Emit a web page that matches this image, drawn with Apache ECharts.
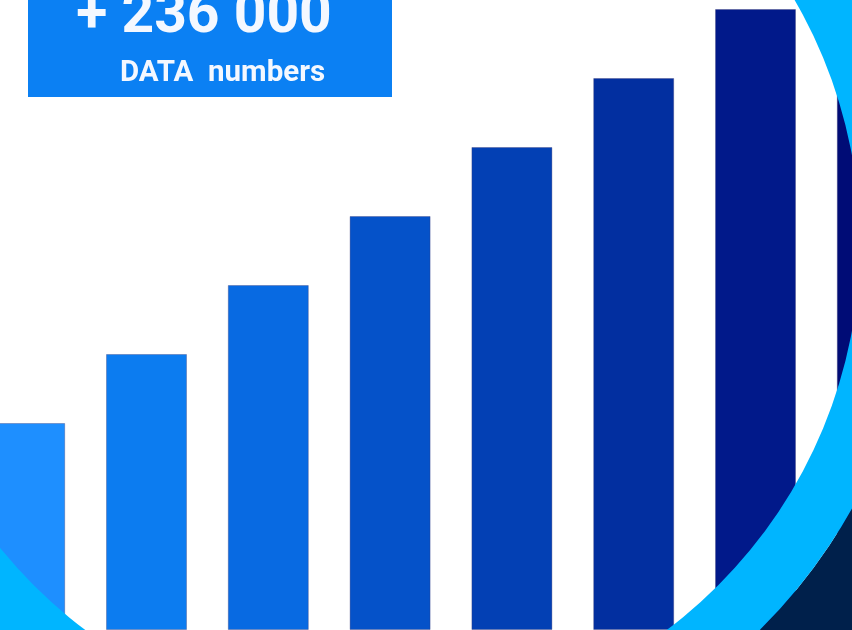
<!DOCTYPE html>
<html>
<head>
<meta charset="utf-8">
<script src="https://cdn.jsdelivr.net/npm/echarts@6/dist/echarts.min.js"></script>
<style>
html,body{margin:0;padding:0;background:#ffffff;}
#chart{width:852px;height:630px;}
</style>
</head>
<body>
<div id="chart"></div>
<script>
// Data
var categories = ['1', '2', '3', '4', '5', '6', '7', '8'];
var values = [3, 4, 5, 6, 7, 8, 9, 10];
var headline = '+ 236 000';
var subline = 'DATA  numbers';

// Styles (kept separate from data)
var barColors = ['#1e8fff', '#0c7cf0', '#086ae2', '#0552c9', '#0340b4', '#022fa0', '#01198a', '#000c76'];

var chart = echarts.init(document.getElementById('chart'), null, {renderer: 'canvas'});

var option = {
  backgroundColor: '#ffffff',
  animation: false,
  grid: {left: -36.2, right: -86.2, top: -60, bottom: 0, containLabel: false, outerBoundsMode: 'none'},
  xAxis: {
    type: 'category',
    data: categories,
    show: false,
    boundaryGap: true
  },
  yAxis: {
    type: 'value',
    min: 0,
    max: 10,
    show: false,
    splitLine: {show: false}
  },
  series: [{
    type: 'bar',
    data: values.map(function (v, i) {
      return {value: v, itemStyle: {color: barColors[i]}};
    }),
    barWidth: 81,
    clip: false,
    itemStyle: {borderColor: 'rgba(60,60,120,0.35)', borderWidth: 1}
  }],
  graphic: [
    {
      type: 'ring',
      z: 100,
      silent: true,
      shape: {cx: 376, cy: 243, r: 1400, r0: 545},
      style: {fill: '#00204b'}
    },
    {
      type: 'ring',
      z: 101,
      silent: true,
      shape: {cx: 376, cy: 243, r: 545, r0: 484},
      style: {fill: '#00b5ff'}
    },
    {
      type: 'rect',
      z: 102,
      silent: true,
      shape: {x: 28, y: -10, width: 364, height: 107},
      style: {fill: '#0b80f3'}
    },
    {
      type: 'text',
      z: 103,
      silent: true,
      style: {
        x: 204, y: -10.5,
        text: headline,
        fill: '#f4f8ff',
        font: 'bold 57px Roboto, "Liberation Sans", sans-serif',
        align: 'center',
        verticalAlign: 'top'
      }
    },
    {
      type: 'text',
      z: 103,
      silent: true,
      style: {
        x: 222.5, y: 59,
        text: subline,
        fill: '#f4f8ff',
        font: 'bold 29.5px Roboto, "Liberation Sans", sans-serif',
        align: 'center',
        verticalAlign: 'top'
      }
    }
  ]
};
chart.setOption(option);
</script>
</body>
</html>
